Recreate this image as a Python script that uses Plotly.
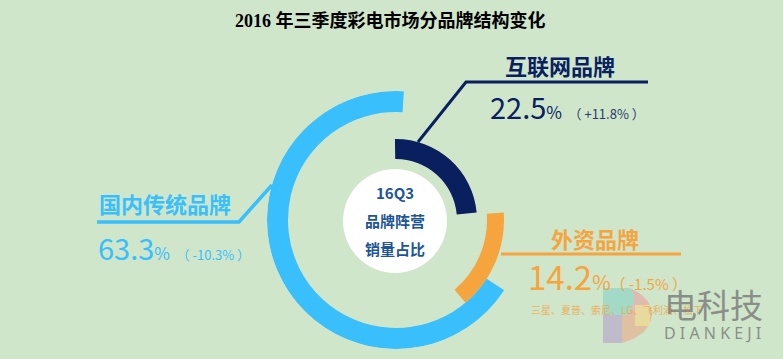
import plotly.graph_objects as go

# ---------------- data ----------------
categories = ["国内传统品牌", "互联网品牌", "外资品牌"]
shares = [63.3, 22.5, 14.2]            # 16Q3 sales share (%)
changes = ["-10.3%", "+11.8%", "-1.5%"]  # change vs. previous
foreign_brands = "三星、夏普、索尼、LG、飞利浦、松下"
title_text = "2016 年三季度彩电市场分品牌结构变化"
center_lines = ["16Q3", "品牌阵营", "销量占比"]

# ---------------- styling ----------------
W, H = 783, 359
BG = "#cfe6cb"
colors = ["#38bffc", "#0a1f5e", "#f5a43e"]
DEG_PER_PCT = 3.8
# ring (inner radius, thickness) in px, start angle and direction of each arc
ring_base = [108, 61, 91]
ring_thick = [21, 20, 17]
arc_anchor = [86.5, 48.0, 4.0]      # blue: start angle, navy: centre angle, orange: start angle
CX, CY, R = 396, 220, 129           # ring centre / outer radius in px


def px(x):
    return x / W


def py(y):
    return 1 - y / H


widths = [s * DEG_PER_PCT for s in shares]
thetas = [
    arc_anchor[0] + widths[0] / 2,   # counter-clockwise from start
    arc_anchor[1],                   # centred
    arc_anchor[2] - widths[2] / 2,   # clockwise from start
]

fig = go.Figure()
fig.add_trace(go.Barpolar(
    r=ring_thick, base=ring_base, theta=thetas, width=widths,
    marker=dict(color=colors, line=dict(width=0)),
    hoverinfo="skip", showlegend=False,
))

shapes = []
# white centre disc
wr = 52
shapes.append(dict(type="circle", xref="paper", yref="paper",
                   x0=px(395 - wr), x1=px(395 + wr), y0=py(221 + wr), y1=py(221 - wr),
                   fillcolor="white", line=dict(width=0), layer="above"))
# leader lines
shapes.append(dict(type="path", xref="paper", yref="paper",
                   path=f"M {px(418)} {py(142)} L {px(466)} {py(82)} L {px(648)} {py(82)}",
                   line=dict(color=colors[1], width=3)))
shapes.append(dict(type="path", xref="paper", yref="paper",
                   path=f"M {px(272)} {py(185)} L {px(239)} {py(222)} L {px(97)} {py(222)}",
                   line=dict(color=colors[0], width=3.5)))
shapes.append(dict(type="line", xref="paper", yref="paper",
                   x0=px(501), x1=px(681), y0=py(254), y1=py(254),
                   line=dict(color=colors[2], width=3)))

# watermark logo "D"
wm = [
    ("#8fd3c4", f"M {px(603)} {py(288)} L {px(630)} {py(288)} Q {px(640)} {py(300)} {px(627)} {py(315)} L {px(603)} {py(315)} Z"),
    ("#e7a8a3", f"M {px(630)} {py(288)} Q {px(652)} {py(298)} {px(652)} {py(315)} L {px(627)} {py(315)} Q {px(640)} {py(300)} {px(630)} {py(288)} Z"),
    ("#b6aacb", f"M {px(603)} {py(315)} L {px(622)} {py(315)} L {px(622)} {py(343)} L {px(603)} {py(343)} Z"),
    ("#e6b08f", f"M {px(622)} {py(315)} L {px(652)} {py(315)} Q {px(650)} {py(335)} {px(622)} {py(343)} Z"),
    ("#eae69a", f"M {px(635)} {py(305)} L {px(650)} {py(305)} L {px(650)} {py(326)} L {px(635)} {py(326)} Z"),
]
for c, p in wm:
    shapes.append(dict(type="path", xref="paper", yref="paper", path=p,
                       fillcolor=c, opacity=0.7, line=dict(width=0), layer="above"))

CJK = "Noto Sans CJK SC, Noto Sans, sans-serif"
ann = []


def add(text, x, y, size, color, xanchor="left", bold=False, family=CJK, opacity=1.0):
    ann.append(dict(text=f"<b>{text}</b>" if bold else text, x=px(x), y=py(y),
                    xref="paper", yref="paper", xanchor=xanchor, yanchor="middle",
                    showarrow=False, opacity=opacity,
                    font=dict(size=size, color=color, family=family)))


add(title_text, 390, 20, 18, "#000000", xanchor="center", bold=True,
    family="Liberation Serif, Noto Sans CJK SC, serif")

# centre text
for i, t in enumerate(center_lines):
    add(t, 395, 192 + i * 28, 15, "#1d5596", xanchor="center", bold=True)

# labels
label_pos = [(97, 203, "left"), (560, 65, "center"), (595, 238, "center")]
num_pos = [(96, 247, 29, 13), (488, 106, 29, 13), (526, 276, 33, 15)]
for i in range(3):
    lx, ly, la = label_pos[i]
    add(categories[i], lx, ly, 22, colors[i], xanchor=la, bold=True)
    nx, ny, ns, ps = num_pos[i]
    paren_color = "#2b3b6b" if i == 1 else colors[i]
    sep = "" if i == 2 else " "
    txt = (f"{shares[i]:.1f}<span style='font-size:{int(ns*0.62)}px'>%</span>{sep}"
           f"<span style='font-size:{ps}px;color:{paren_color}'>（ {changes[i]} ）</span>")
    add(txt, nx, ny, ns, colors[i])

add(foreign_brands, 529, 309, 10, colors[2], opacity=0.8)
add("电科技", 662, 304, 33, "#7d817d", opacity=0.85)
add("D I A N K E J I", 662, 333, 16, "#7d817d", opacity=0.85, family="Noto Sans, sans-serif")

fig.update_layout(
    width=W, height=H, margin=dict(l=0, r=0, t=0, b=0),
    paper_bgcolor=BG, plot_bgcolor=BG,
    polar=dict(
        domain=dict(x=[px(CX - R), px(CX + R)], y=[py(CY + R), py(CY - R)]),
        bgcolor="rgba(0,0,0,0)", hole=0,
        radialaxis=dict(visible=False, range=[0, R], showgrid=False),
        angularaxis=dict(visible=False, showgrid=False, rotation=0, direction="counterclockwise"),
    ),
    shapes=shapes, annotations=ann,
)

fig.write_html("out.html", config={"displayModeBar": False},
               post_script="document.body.style.margin='0px';document.body.style.background='" + BG + "';")
